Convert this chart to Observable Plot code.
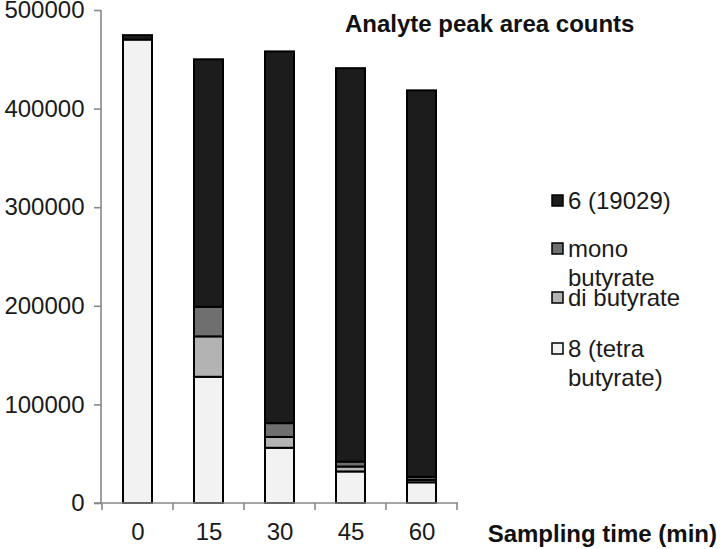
<!DOCTYPE html>
<html><head><meta charset="utf-8">
<script src="https://cdn.jsdelivr.net/npm/d3@7"></script>
<script src="https://cdn.jsdelivr.net/npm/@observablehq/plot@0.6"></script>
<style>
body{margin:0;background:#fff}
#chart{position:relative;width:720px;height:549px;font-family:"Liberation Sans",Arial,sans-serif}
</style>
</head><body><div id="chart"></div>
<script>
const times = ["0","15","30","45","60"];
const seriesNames = ["8 (tetra butyrate)","di butyrate","mono butyrate","6 (19029)"];
const tetra = [470000,128000,56000,32000,21000];
const di = [0,41000,11000,5000,2500];
const mono = [0,30000,14000,5000,3000];
const six = [4500,251000,377000,399000,392000];
const yTicks = [0,100000,200000,300000,400000,500000];
const seriesColors = ["#f2f2f2","#b3b3b3","#6f6f6f","#1c1c1c"];
const titleText = "Analyte peak area counts";
const xTitleText = "Sampling time (min)";
const legendLabels = [["6 (19029)"],["mono","butyrate"],["di butyrate"],["8 (tetra","butyrate)"]];
const legendColors = ["#1c1c1c","#6f6f6f","#b3b3b3","#f2f2f2"];

const vals = [tetra, di, mono, six];
const rows = [];
seriesNames.forEach((s,i)=>times.forEach((t,j)=>{ if (vals[i][j]>0) rows.push({time:t, series:s, value:vals[i][j]}); }));

const chart = Plot.plot({
  width:720, height:549, marginLeft:101, marginRight:262, marginTop:10, marginBottom:46,
  style:{fontFamily:'"Liberation Sans", Arial, sans-serif', fontSize:"24px", color:"#1a1a1a", background:"white"},
  x:{domain:times, paddingInner:0.59, paddingOuter:0.295, label:null},
  y:{domain:[0,500000], label:null},
  color:{domain:seriesNames, range:seriesColors},
  marks:[
    Plot.barY(rows,{x:"time", y:"value", fill:"series", order:seriesNames, stroke:"#000", strokeWidth:2}),
    Plot.axisY({ticks:yTicks, tickSize:7, tickPadding:10, tickFormat:d=>String(d), stroke:"#888", strokeWidth:1.6, label:null}),
    Plot.axisX({tickSize:0, tickPadding:19, label:null})
  ]
});
document.getElementById("chart").appendChild(chart);

const xs = chart.scale("x"), ys = chart.scale("y");
const svg = d3.select(chart);
const y0 = ys.apply(0), yTop = ys.apply(500000);
const step = xs.step ?? (xs.range[1]-xs.range[0])/times.length;
const bw = xs.bandwidth ?? step*0.41;
const left = xs.range[0], right = xs.range[1];
const g = svg.append("g").attr("stroke","#888").attr("stroke-width",1.6).attr("fill","none");
g.append("line").attr("x1",left).attr("x2",left).attr("y1",yTop).attr("y2",y0);
g.append("line").attr("x1",left-7).attr("x2",right).attr("y1",y0).attr("y2",y0);
const bounds = times.map(t=>xs.apply(t)-(step-bw)/2);
bounds.push(bounds[bounds.length-1]+step);
bounds.forEach(b=>g.append("line").attr("x1",b).attr("x2",b).attr("y1",y0).attr("y2",y0+7));

svg.append("text").attr("x",345).attr("y",32).attr("text-anchor","start").attr("font-weight","bold").attr("font-size",24).attr("fill","#111").text(titleText);
svg.append("text").attr("x",717).attr("y",542).attr("text-anchor","end").attr("font-weight","bold").attr("font-size",24).attr("fill","#111").text(xTitleText);

const legendY = [[201],[249,278],[298],[349,378]];
const lg = svg.append("g").attr("font-size",24).attr("fill","#1a1a1a").attr("text-anchor","start");
legendLabels.forEach((lines,i)=>{
  lg.append("rect").attr("x",552).attr("y",legendY[i][0]-6).attr("width",11).attr("height",11)
    .attr("fill",legendColors[i]).attr("stroke","#000").attr("stroke-width",1.5);
  lines.forEach((ln,k)=>{
    lg.append("text").attr("x",568).attr("y",legendY[i][k]).attr("dy","0.35em").text(ln);
  });
});
</script>
</body></html>
